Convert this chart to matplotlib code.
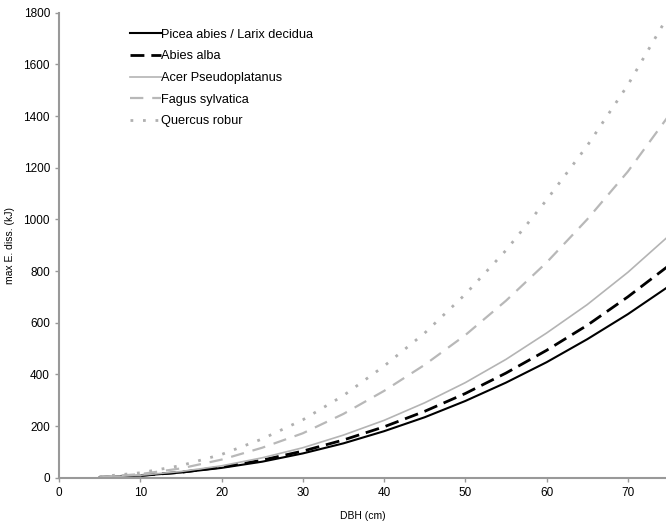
import numpy as np
import matplotlib.pyplot as plt

plt.rcParams['font.family'] = ['Liberation Sans Narrow', 'Liberation Sans', 'DejaVu Sans']

dbh = [5, 10, 15, 20, 25, 30, 35, 40, 45, 50, 55, 60, 65, 70, 75]

picea = [1.7, 8, 20, 38, 62, 94, 133, 180, 234, 297, 368, 447, 536, 633, 740]
abies = [1.8, 8.5, 21, 41, 68, 103, 146, 197, 257, 326, 405, 493, 590, 700, 820]
acer = [2, 9.5, 24, 46, 77, 116, 165, 222, 290, 368, 458, 560, 670, 795, 935]
fagus = [3, 14, 36, 70, 116, 172, 247, 336, 437, 552, 685, 833, 1000, 1185, 1400]
quercus = [4, 19, 47, 90, 150, 224, 318, 432, 560, 710, 880, 1075, 1285, 1520, 1790]

fig = plt.figure(figsize=(6.66, 5.26), dpi=100)
ax = fig.add_axes([0.0886, 0.0918, 0.9114, 0.884])

ax.plot(dbh, picea, color='black', lw=1.5, label='Picea abies / Larix decidua')
ax.plot(dbh, abies, color='black', lw=2, ls=(0, (5, 2.5)), label='Abies alba')
ax.plot(dbh, acer, color='#b4b4b4', lw=1.2, label='Acer Pseudoplatanus')
ax.plot(dbh, fagus, color='#b8b8b8', lw=1.6, ls=(0, (6, 4)), label='Fagus sylvatica')
ax.plot(dbh, quercus, color='#b0b0b0', lw=2, ls=(0, (1, 3.5)), label='Quercus robur')

ax.set_xlim(0, 74.7)
ax.set_ylim(0, 1800)
ax.set_xticks(np.arange(0, 80, 10))
ax.set_yticks(np.arange(0, 2000, 200))

for s in ['top', 'right']:
    ax.spines[s].set_visible(False)
for s in ['left', 'bottom']:
    ax.spines[s].set_color('#999999')
    ax.spines[s].set_linewidth(1.5)
ax.tick_params(colors='#999999', labelcolor='black', labelsize=8.5, length=3, width=1)

ax.set_xlabel('DBH (cm)', fontsize=7.5, labelpad=9)
ax.set_ylabel('max E. diss. (kJ)', fontsize=7.5)
ax.yaxis.set_label_coords(-0.072, 0.5)

ax.legend(loc='upper left', bbox_to_anchor=(0.098, 0.99), frameon=False, fontsize=9.2,
          handlelength=2.4, handletextpad=0.05, labelspacing=0.75)

fig.savefig('out.png', dpi=100)
